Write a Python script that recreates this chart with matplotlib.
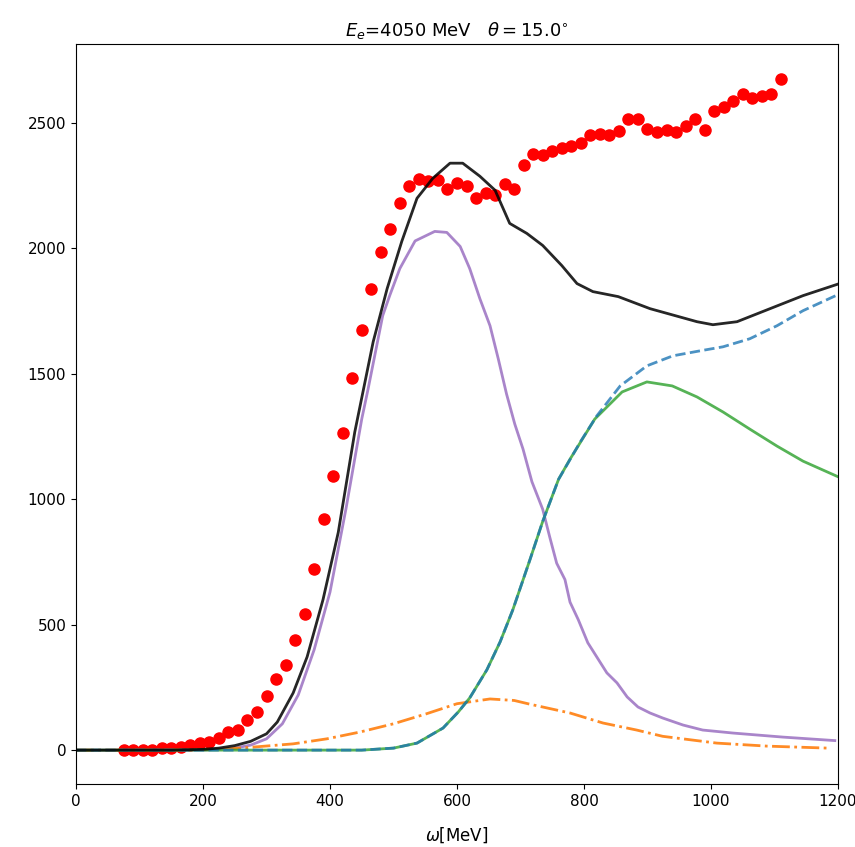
import matplotlib
matplotlib.use("Agg")
import matplotlib.pyplot as plt

# experimental points (omega in MeV, cross section)
exp_w = [75, 90, 105, 120, 135, 150, 165, 180, 195, 210,
         225, 240, 255, 270, 285, 300, 315, 330, 345, 360,
         375, 390, 405, 420, 435, 450, 465, 480, 495, 510,
         525, 540, 555, 570, 585, 600, 615, 630, 645, 660,
         675, 690, 705, 720, 735, 750, 765, 780, 795, 810,
         825, 840, 855, 870, 885, 900, 915, 930, 945, 960,
         975, 990, 1005, 1020, 1035, 1050, 1065, 1080, 1095, 1110]
exp_xs = [0, 0, 0, 2, 8, 8, 12, 20, 28, 32,
          48, 72, 80, 120, 152, 216, 284, 340, 440, 544,
          724, 920, 1092, 1264, 1484, 1676, 1840, 1984, 2076, 2180,
          2248, 2276, 2268, 2272, 2236, 2262, 2248, 2200, 2220, 2212,
          2256, 2236, 2332, 2376, 2372, 2388, 2400, 2408, 2420, 2452,
          2456, 2452, 2468, 2516, 2516, 2476, 2464, 2472, 2464, 2488,
          2516, 2472, 2548, 2564, 2588, 2616, 2600, 2608, 2616, 2676]

# total model
tot_w = [0, 100, 150, 200, 225, 250, 275, 300, 317, 342, 364, 389, 413, 439,
         468, 490, 513, 537, 562, 589, 609, 636, 660, 683, 710, 735, 765, 789,
         814, 854, 904, 978, 1003, 1041, 1093, 1145, 1200]
tot_xs = [0, 0, 0, 3, 8, 18, 35, 65, 112, 228, 372, 600, 868, 1268,
          1628, 1840, 2028, 2200, 2280, 2340, 2340, 2288, 2232, 2100, 2060, 2012, 1932, 1860,
          1828, 1808, 1760, 1708, 1696, 1708, 1760, 1812, 1858]

# quasi-elastic part
qe_w = [0, 200, 250, 275, 300, 325, 350, 375, 400, 425, 450, 460, 483, 494,
        510, 534, 565, 584, 605, 620, 636, 652, 665, 678, 691, 704, 718, 735,
        746, 757, 770, 778, 791, 806, 820, 836, 852, 868, 885, 904, 924, 956,
        987, 1035, 1113, 1195]
qe_xs = [0, 0, 8, 20, 45, 105, 220, 400, 630, 960, 1320, 1440, 1732, 1812,
         1920, 2030, 2068, 2064, 2008, 1920, 1800, 1692, 1560, 1420, 1300, 1200, 1070, 960,
         850, 745, 680, 590, 520, 428, 372, 308, 268, 212, 172, 148, 128, 100,
         80, 68, 52, 38]

# delta / inelastic parts
inel_w = [0, 450, 500, 537, 578, 602, 620, 647, 668, 688, 715, 735, 760, 778,
          817, 860, 899, 939, 978, 1019, 1061, 1104, 1145, 1200]
inel_xs = [0, 0, 8, 28, 88, 152, 208, 320, 432, 560, 760, 912, 1080, 1160,
           1320, 1428, 1468, 1452, 1408, 1348, 1280, 1212, 1152, 1090]

dis_w = [0, 450, 500, 537, 578, 602, 620, 647, 668, 688, 715, 735, 760, 794,
         820, 857, 899, 940, 983, 1019, 1061, 1104, 1145, 1200]
dis_xs = [0, 0, 8, 28, 88, 152, 208, 320, 432, 560, 760, 912, 1080, 1228,
          1332, 1452, 1532, 1572, 1592, 1608, 1640, 1692, 1752, 1816]

mec_w = [0, 150, 227, 269, 342, 395, 447, 500, 552, 600, 652, 690, 715, 778,
         830, 883, 924, 1009, 1088, 1184]
mec_xs = [0, 0, 4, 10, 25, 45, 72, 105, 145, 185, 204, 198, 183, 148,
          108, 80, 55, 28, 16, 8]

fig = plt.figure(figsize=(8.55, 8.47), dpi=100)
ax = fig.add_axes([0.0889, 0.0744, 0.8912, 0.8736])

ax.plot(exp_w, exp_xs, 'ro', markersize=8)
ax.plot(qe_w, qe_xs, color='C4', lw=2, alpha=0.8)
ax.plot(mec_w, mec_xs, color='C1', ls='-.', lw=2, alpha=0.9)
ax.plot(inel_w, inel_xs, color='C2', lw=2, alpha=0.8)
ax.plot(dis_w, dis_xs, color='C0', ls='--', lw=2, alpha=0.8)
ax.plot(tot_w, tot_xs, 'k', lw=2, alpha=0.85)

ax.set_xlim(0, 1200)
ax.set_ylim(-135, 2815)
ax.set_xticks([0, 200, 400, 600, 800, 1000, 1200])
ax.set_yticks([0, 500, 1000, 1500, 2000, 2500])
ax.tick_params(labelsize=11)
ax.set_xlabel(r'$\omega$[MeV]', fontsize=12, labelpad=12)
ax.set_title(r'$E_e$=4050 MeV   $\theta=15.0^{\circ}$', fontsize=13)

fig.savefig('out.png', dpi=100)
